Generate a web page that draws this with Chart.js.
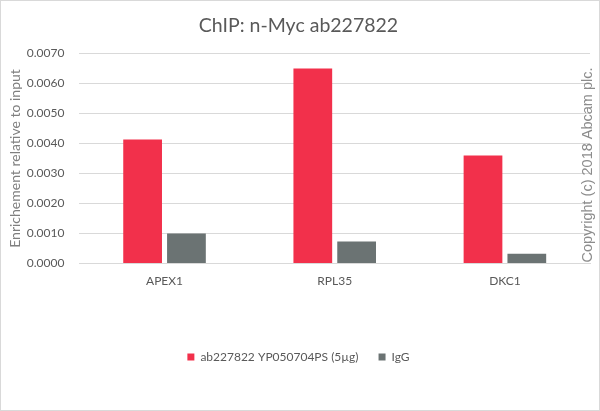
<!DOCTYPE html>
<html>
<head>
<meta charset="utf-8">
<script src="https://cdn.jsdelivr.net/npm/chart.js@4"></script>
<style>
  html, body { margin: 0; padding: 0; background: #fff; }
  #wrap { width: 598px; height: 409px; border: 1px solid #d9d9d9; position: relative; }
</style>
</head>
<body>
<div id="wrap"><canvas id="chipChart"></canvas></div>
<script>
const categories = ['APEX1', 'RPL35', 'DKC1'];
const antibodyValues = [0.00413, 0.00650, 0.00360];
const iggValues = [0.00100, 0.00074, 0.00033];
const seriesLabels = ['ab227822 YP050704PS (5\u00b5g)', 'IgG'];
const yTicks = [0, 0.001, 0.002, 0.003, 0.004, 0.005, 0.006, 0.007];

const fontFamily = 'Lato, "DejaVu Sans", sans-serif';

// rotated copyright note on the right edge
const copyrightPlugin = {
    id: 'copyright',
    afterDraw(chart) {
        const ctx = chart.ctx;
        ctx.save();
        ctx.translate(587, 164);
        ctx.rotate(-Math.PI / 2);
        ctx.font = '14.5px "Liberation Sans", Arial, sans-serif';
        ctx.fillStyle = '#8c8c8c';
        ctx.textAlign = 'center';
        ctx.textBaseline = 'middle';
        ctx.fillText('Copyright (c) 2018 Abcam plc.', 0, 0);
        ctx.restore();
    }
};

const chipCtx = document.getElementById('chipChart').getContext('2d');
const chipChart = new Chart(chipCtx, {
    type: 'bar',
    data: {
        labels: categories,
        datasets: [{
            label: seriesLabels[0],
            data: antibodyValues,
            backgroundColor: '#f2304b',
            categoryPercentage: 0.515,
            barPercentage: 0.884
        }, {
            label: seriesLabels[1],
            data: iggValues,
            backgroundColor: '#6b7373',
            categoryPercentage: 0.515,
            barPercentage: 0.884
        }]
    },
    options: {
        responsive: true,
        maintainAspectRatio: false,
        animation: false,
        layout: {
            padding: { left: 6, right: 9, top: 6, bottom: 37 }
        },
        plugins: {
            title: {
                display: true,
                text: 'ChIP: n-Myc ab227822',
                color: '#595959',
                font: { family: fontFamily, size: 19.5, weight: 'normal' },
                padding: { top: 7, bottom: 16 }
            },
            legend: {
                position: 'bottom',
                labels: {
                    color: '#595959',
                    font: { family: fontFamily, size: 12 },
                    boxWidth: 7,
                    boxHeight: 7,
                    padding: 20
                }
            },
            tooltip: { enabled: false }
        },
        scales: {
            y: {
                min: 0,
                max: 0.007,
                afterBuildTicks: axis => { axis.ticks = yTicks.map(v => ({ value: v })); },
                afterFit: axis => { axis.width -= 12; },
                ticks: {
                    color: '#595959',
                    font: { family: fontFamily, size: 12 },
                    callback: v => v.toFixed(4),
                    padding: 15
                },
                grid: { color: '#d9d9d9', drawTicks: false },
                border: { display: false },
                title: {
                    display: true,
                    text: 'Enrichement relative to input',
                    color: '#7f7f7f',
                    font: { family: fontFamily, size: 14 },
                    padding: 0
                }
            },
            x: {
                afterFit: axis => { axis.height += 41; },
                ticks: {
                    color: '#595959',
                    font: { family: fontFamily, size: 12 },
                    padding: 2
                },
                grid: { display: false },
                border: { color: '#d9d9d9' }
            }
        }
    },
    plugins: [copyrightPlugin]
});
</script>
</body>
</html>
